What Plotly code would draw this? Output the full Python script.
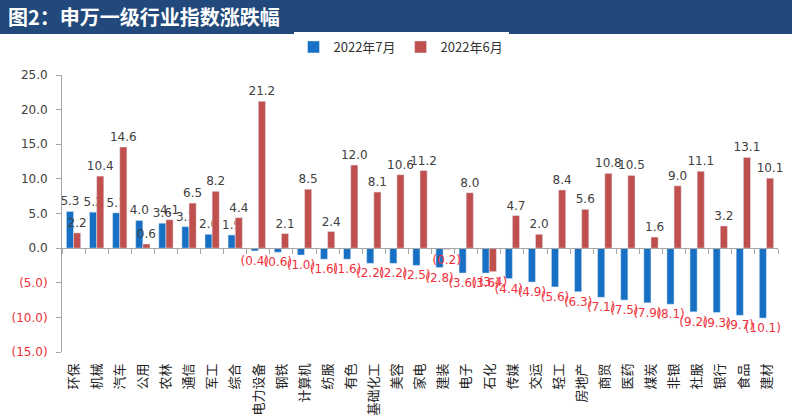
import plotly.graph_objects as go

categories = ["环保", "机械", "汽车", "公用", "农林", "通信", "军工", "综合", "电力设备", "钢铁",
              "计算机", "纺服", "有色", "基础化工", "美容", "家电", "建装", "电子", "石化", "传媒",
              "交运", "轻工", "房地产", "商贸", "医药", "煤炭", "非银", "社服", "银行", "食品", "建材"]
july = [5.3, 5.2, 5.1, 4.0, 3.6, 3.1, 2.0, 1.9, -0.4, -0.6,
        -1.0, -1.6, -1.6, -2.2, -2.2, -2.5, -2.8, -3.6, -3.6, -4.4,
        -4.9, -5.6, -6.3, -7.1, -7.5, -7.9, -8.1, -9.2, -9.3, -9.7, -10.1]
june = [2.2, 10.4, 14.6, 0.6, 4.1, 6.5, 8.2, 4.4, 21.2, 2.1,
        8.5, 2.4, 12.0, 8.1, 10.6, 11.2, -0.2, 8.0, -3.4, 4.7,
        2.0, 8.4, 5.6, 10.8, 10.5, 1.6, 9.0, 11.1, 3.2, 13.1, 10.1]
y_ticks = [-15, -10, -5, 0, 5, 10, 15, 20, 25]

BLUE = "#1770C4"
RED = "#C0504D"
NEG = "#F0303A"
POS = "#404040"


def fmt(v):
    return f"{v:.1f}" if v >= 0 else f"({abs(v):.1f})"


def tick_fmt(v):
    if v < 0:
        return f"<span style='color:{NEG}'>({abs(v):.1f})</span>"
    return f"{v:.1f}"


fig = go.Figure()
for name, vals, col in [("2022年7月", july, BLUE), ("2022年6月", june, RED)]:
    fig.add_trace(go.Bar(
        x=categories, y=vals, name=name, marker_color=col,
        text=[fmt(v) for v in vals], textposition="outside",
        textangle=0, constraintext="none", cliponaxis=False,
        textfont=dict(size=12, color=[POS if v >= 0 else NEG for v in vals],
                      family="DejaVu Sans"),
    ))

# invisible helper trace for the zero-level category axis (tick marks)
fig.add_trace(go.Scatter(x=categories, y=[None] * len(categories), mode="lines",
                         xaxis="x2", showlegend=False, hoverinfo="skip"))

L, R, T, B = 62, 22, 75, 68
W, H = 800, 420
pw, ph = W - L - R, H - T - B

fig.update_layout(
    width=W, height=H,
    margin=dict(l=L, r=R, t=T, b=B, autoexpand=False),
    paper_bgcolor="white", plot_bgcolor="white",
    barmode="group", bargap=0.38, bargroupgap=0.0,
    font=dict(family="Noto Sans CJK SC", size=13, color=POS),
    legend=dict(orientation="h", x=(401 - L) / pw, xanchor="center",
                y=1 + (T - 47) / ph, yanchor="middle",
                font=dict(size=13, color="#333333", family="Noto Sans CJK SC"),
                itemwidth=30, traceorder="normal"),
    xaxis=dict(type="category", categoryorder="array", categoryarray=categories,
               tickangle=-90, showline=False, ticks="", ticklabelstandoff=8,
               showgrid=False, tickfont=dict(size=13, color="#222222",
                                             family="Noto Sans CJK SC")),
    xaxis2=dict(type="category", categoryorder="array", categoryarray=categories,
                overlaying="x", anchor="free", position=15 / 40, matches="x",
                showline=True, linecolor="#A6A6A6", linewidth=1,
                ticks="outside", tickson="boundaries", ticklen=5,
                tickcolor="#A6A6A6", showticklabels=False, showgrid=False),
    yaxis=dict(range=[-15, 25], tickvals=y_ticks,
               ticktext=[tick_fmt(v) for v in y_ticks],
               showline=True, linecolor="#A6A6A6", linewidth=1,
               ticks="outside", ticklen=5, tickcolor="#A6A6A6",
               ticklabelstandoff=6,
               showgrid=False, zeroline=False,
               tickfont=dict(size=12, color=POS, family="DejaVu Sans")),
    shapes=[dict(type="rect", xref="paper", yref="paper",
                 x0=-L / pw, x1=(792 - L) / pw,
                 y0=1 + (T - 34) / ph, y1=1 + T / ph,
                 fillcolor="#21497B", line=dict(width=0), layer="below")],
    annotations=[dict(text="<b>图2：申万一级行业指数涨跌幅</b>", xref="paper", yref="paper",
                      x=(6 - L) / pw, xanchor="left", y=1 + (T - 17) / ph, yanchor="middle",
                      showarrow=False,
                      font=dict(size=20, color="white", family="Noto Sans CJK SC"))],
)

fig.write_html("out.html", config={"displayModeBar": False},
               post_script="document.body.style.margin='0';document.body.style.overflow='hidden';")
